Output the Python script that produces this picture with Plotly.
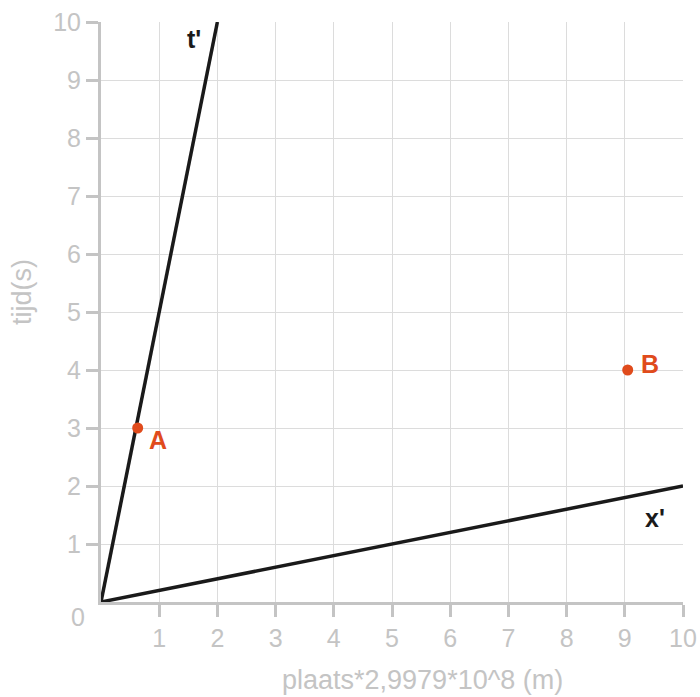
import plotly.graph_objects as go

# data
t_line_x = [0, 2]
t_line_y = [0, 10]
x_line_x = [0, 10]
x_line_y = [0, 2]
point_x = [0.63, 9.05]
point_y = [3.0, 4.0]
text_names = ["A", "B", "t'", "x'"]
text_x = [0.98, 9.43, 1.60, 9.52]
text_y = [2.79, 4.10, 9.71, 1.45]
tick_vals = [1, 2, 3, 4, 5, 6, 7, 8, 9, 10]
tick_text = ["1", "2", "3", "4", "5", "6", "7", "8", "9", "10"]

gray = "#c4c4c4"
grid = "#dcdcdc"
orange = "#e04b1c"
black = "#1a1a1a"
font = "Liberation Sans, Arial, sans-serif"

fig = go.Figure()
fig.add_trace(go.Scatter(x=t_line_x, y=t_line_y, mode="lines",
                         line=dict(color=black, width=3.5), hoverinfo="skip"))
fig.add_trace(go.Scatter(x=x_line_x, y=x_line_y, mode="lines",
                         line=dict(color=black, width=3.5), hoverinfo="skip"))
fig.add_trace(go.Scatter(x=point_x, y=point_y, mode="markers",
                         marker=dict(color=orange, size=11)))

text_colors = [orange, orange, black, black]
for n, px, py, c in zip(text_names, text_x, text_y, text_colors):
    fig.add_annotation(x=px, y=py, text="<b>" + n + "</b>", showarrow=False,
                       xanchor="center", yanchor="middle",
                       font=dict(family=font, size=25, color=c))

fig.add_annotation(x=0, y=0, text="0", showarrow=False, xanchor="center", yanchor="middle",
                   xshift=-23, yshift=-15, font=dict(family=font, size=25, color=gray))

# axis titles
fig.add_annotation(xref="paper", yref="paper", x=0, y=0, text="plaats*2,9979*10^8 (m)",
                   showarrow=False, xanchor="center", yanchor="middle",
                   xshift=321, yshift=-78, font=dict(family=font, size=27, color=gray))
fig.add_annotation(xref="paper", yref="paper", x=0, y=0, text="tijd(s)", textangle=-90,
                   showarrow=False, xanchor="center", yanchor="middle",
                   xshift=-79, yshift=310, font=dict(family=font, size=27, color=gray))

axis_common = dict(
    range=[0, 10], tickvals=tick_vals, ticktext=tick_text,
    showgrid=True, gridcolor=grid, gridwidth=1,
    showline=True, linecolor=gray, linewidth=3,
    ticks="outside", ticklen=12, tickwidth=3, tickcolor=gray,
    tickfont=dict(family=font, size=25, color=gray),
    zeroline=False, fixedrange=True, automargin=False,
)

fig.update_layout(
    width=700, height=697,
    margin=dict(l=101, r=17, t=22, b=95),
    paper_bgcolor="white", plot_bgcolor="white",
    showlegend=False,
    xaxis=dict(**axis_common),
    yaxis=dict(**axis_common),
)

fig.write_html("out.html")
